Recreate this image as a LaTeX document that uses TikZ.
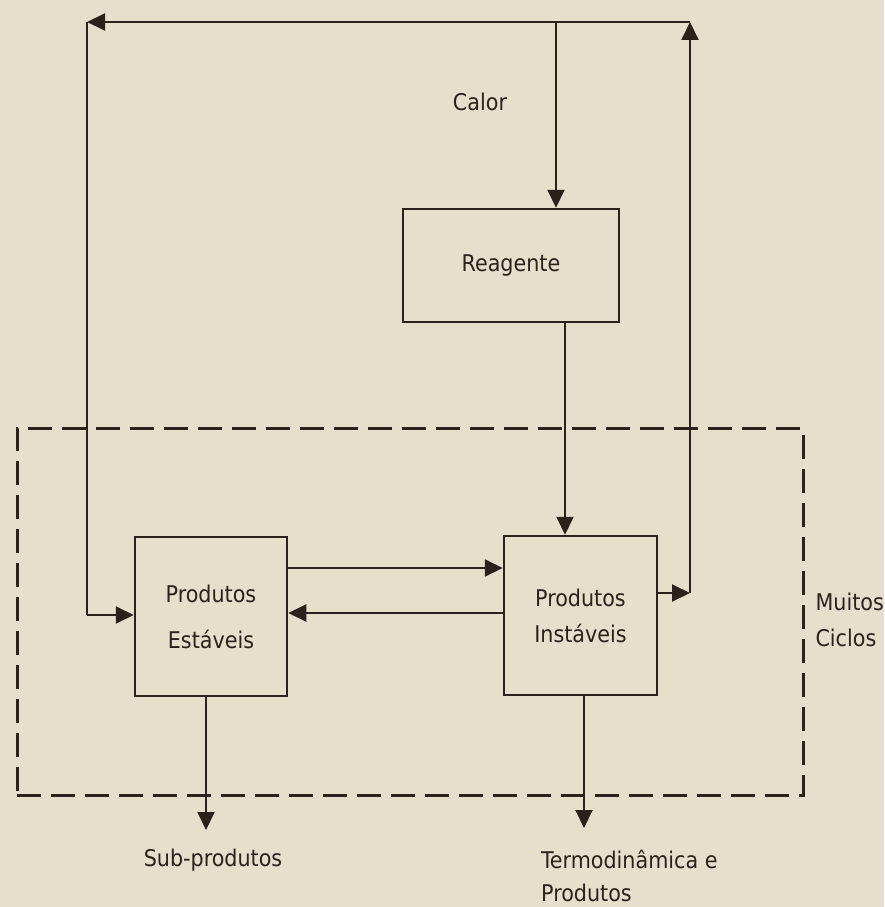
\documentclass[tikz,border=0pt]{standalone}
\usepackage{fontspec}
\setmainfont{DejaVu Sans Condensed}
\usetikzlibrary{arrows.meta}
\definecolor{paper}{HTML}{E5DFCB}
\definecolor{ink}{HTML}{2B221C}
\begin{document}
\begin{tikzpicture}[x=1pt,y=-1pt,
  every node/.style={font=\fontsize{23}{36}\selectfont, text=ink},
  box/.style={draw=ink, line width=2.5pt, inner sep=0pt},
  flow/.style={draw=ink, line width=2pt, -{Triangle[length=18pt,width=17pt]}},
  link/.style={draw=ink, line width=2pt},
  loopbox/.style={draw=ink, line width=3pt, dash pattern=on 24pt off 10pt, inner sep=0pt}]
% paper and page frame
\fill[paper] (0,0) rectangle (884,907);
\useasboundingbox (0,0) rectangle (884,907);

% dashed frame of the repeated cycle
\node[loopbox, minimum width=786pt, minimum height=367pt] (ciclo) at (410,611.5) {};
\node[anchor=west, align=left] (muitos) at (812,620) {Muitos\\Ciclos};

% boxes
\node[box, minimum width=216pt, minimum height=113pt] (reag) at (511,265.5) {Reagente};
\node[box, minimum width=152pt, minimum height=159pt, align=center] (est) at (211,616.5) {Produtos\\[10pt]Estáveis};
\node[box, minimum width=153pt, minimum height=159pt, align=center] (inst) at (580.5,615.5) {Produtos\\Instáveis};

% free labels
\node (calor) at (480,102) {Calor};
\node (sub) at (213,860) {Sub-produtos};
\node[anchor=west, align=left, inner sep=0pt, font=\fontsize{23}{33}\selectfont] (termo) at (541,876) {Termodinâmica e\\Produtos};

% routing points of the feedback loop
\coordinate (rj) at (690,593);
\coordinate (tr) at (690,22);
\coordinate (cj) at (556,22);
\coordinate (tl) at (87,22);
\coordinate (lj) at (87,615);
\coordinate (subtip) at (206,830);
\coordinate (termotip) at (584,828);

% feedback loop
\draw[flow] (inst.east |- rj) -- (rj);
\draw[flow] (rj) -- (tr);
\draw[flow] (tr) -- (tl);
\draw[link] (tl) -- (lj);
\draw[flow] (lj) -- (est.west |- lj);

% heat input into the reagent
\draw[flow] (cj) -- (cj |- reag.north);

% reagent to unstable products
\draw[flow] (reag.south -| 565,0) -- (inst.north -| 565,0);

% exchange between the two product boxes
\draw[flow] (est.east |- 0,568) -- (inst.west |- 0,568);
\draw[flow] (inst.west |- 0,613) -- (est.east |- 0,613);

% outputs
\draw[flow] (est.south -| subtip) -- (subtip);
\draw[flow] (inst.south -| termotip) -- (termotip);
\end{tikzpicture}
\end{document}
